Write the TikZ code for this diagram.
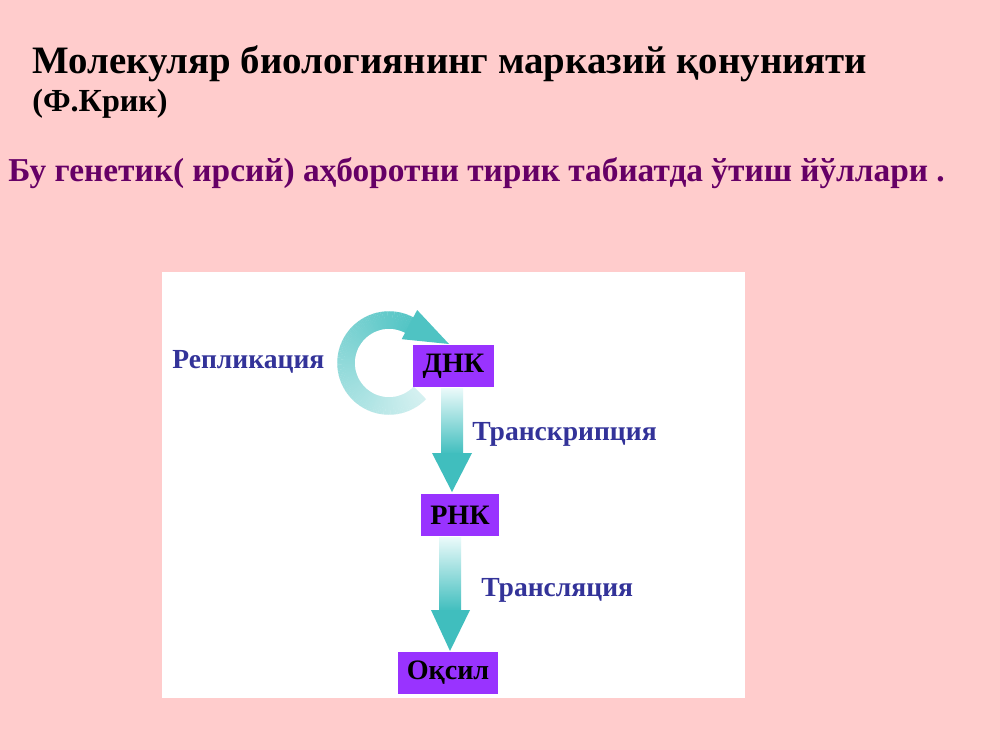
\documentclass[tikz,border=0pt]{standalone}
\usepackage{fontspec}
\setmainfont{Liberation Serif}
\usetikzlibrary{calc}
\definecolor{bgpink}{RGB}{255,204,204}
\definecolor{boxpurple}{RGB}{153,51,255}
\definecolor{lblblue}{RGB}{51,51,153}
\definecolor{subpurple}{RGB}{102,0,102}
\definecolor{arrowc}{RGB}{64,190,190}
\definecolor{arrowlight}{RGB}{235,250,250}
\tikzset{
  stagebox/.style={fill=boxpurple, draw=none, font=\bfseries\fontsize{16}{18}\selectfont, text=black, inner sep=0pt},
  steplabel/.style={font=\bfseries\fontsize{15.7}{18}\selectfont, text=lblblue, anchor=west, inner sep=0pt},
}
\begin{document}
\begin{tikzpicture}[x=0.02cm, y=-0.02cm]
\useasboundingbox (0,0) rectangle (1000,750);
\fill[bgpink] (0,0) rectangle (1000,750);
\fill[white] (162,272) rectangle (745,698);

% titles
\node[anchor=base west, inner sep=0pt, font=\bfseries\fontsize{22.1}{26}\selectfont] (title) at (32,73) {Молекуляр биологиянинг марказий қонунияти};
\node[anchor=base west, inner sep=0pt, font=\bfseries\fontsize{18.3}{20}\selectfont] (crick) at (32,112) {(Ф.Крик)};
\node[anchor=base west, inner sep=0pt, font=\bfseries\fontsize{19}{24}\selectfont, text=subpurple] (sub) at (8,181) {Бу генетик( ирсий) аҳборотни тирик табиатда ўтиш йўллари .};

% nodes
\node[stagebox, minimum width=81*0.02cm, minimum height=42*0.02cm] (dnk) at (453.5,366) {ДНК};
\node[stagebox, minimum width=78*0.02cm, minimum height=42*0.02cm] (rnk) at (460,515) {РНК};
\node[stagebox, minimum width=100*0.02cm, minimum height=42*0.02cm] (oqsil) at (448,673) {Оқсил};

% circular replication arrow
\foreach \a [evaluate=\a as \t using {22+(\a-44)/256*68}] in {44,46,...,300}{
  \pgfmathsetmacro{\b}{\a+2.6}
  \draw[line width=0.35cm, color=arrowc!\t!white] (389,363) ++(\a:43) arc[start angle=\a, end angle=\b, radius=43];
}
\fill[arrowc!92!white] ($(389,363)+(298:60)$) -- (449,344) -- ($(389,363)+(298:27)$) -- cycle;

% vertical arrows
\coordinate (a1t) at (452,492);
\shade[top color=arrowlight, bottom color=arrowc] (441,388) rectangle (463,454);
\fill[arrowc] (432,453) -- (472,453) -- (a1t) -- cycle;
\coordinate (a2t) at (450,651);
\shade[top color=arrowlight, bottom color=arrowc] (439,537) rectangle (461,611);
\fill[arrowc] (431,610) -- (470,610) -- (a2t) -- cycle;
\node[stagebox, minimum width=81*0.02cm, minimum height=42*0.02cm] at (dnk) {ДНК};

% labels
\node[steplabel] (repl) at (172,362) {Репликация};
\node[steplabel] (trans) at (472,434) {Транскрипция};
\node[steplabel] (transl) at (481,590) {Трансляция};
\end{tikzpicture}
\end{document}
